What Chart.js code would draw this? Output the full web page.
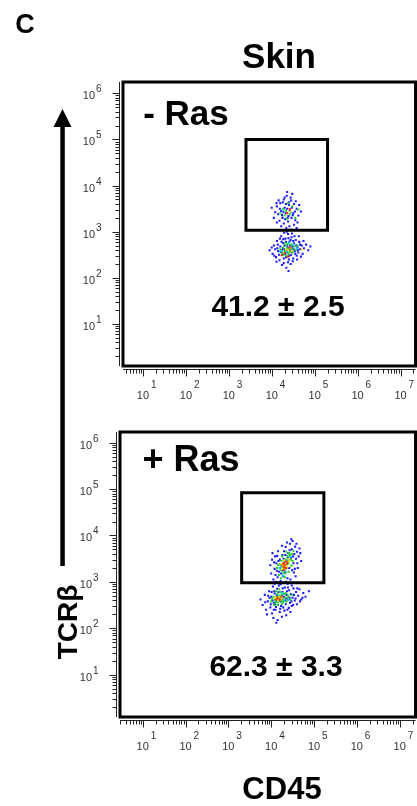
<!DOCTYPE html>
<html><head><meta charset="utf-8">
<script src="https://cdn.jsdelivr.net/npm/chart.js@4.4.1/dist/chart.umd.min.js"></script>
<style>
html,body{margin:0;padding:0;background:#fff;}
body{width:417px;height:806px;position:relative;overflow:hidden;font-family:"Liberation Sans",Arial,sans-serif;}
.t{position:absolute;font-weight:bold;color:#000;line-height:1;white-space:nowrap;transform:translate(-50%,-50%);}
canvas{position:absolute;left:0;}
</style></head><body>
<canvas id="c1" width="417" height="400" style="top:0"></canvas>
<canvas id="c2" width="417" height="406" style="top:400px"></canvas>
<div class="t" style="left:25px;top:24px;font-size:27px">C</div>
<div class="t" style="left:279px;top:55px;font-size:35px">Skin</div>
<div class="t" style="left:186px;top:112px;font-size:35px">- Ras</div>
<div class="t" style="left:278px;top:306px;font-size:30px">41.2 ± 2.5</div>
<div class="t" style="left:191px;top:459px;font-size:36px">+ Ras</div>
<div class="t" style="left:276px;top:666px;font-size:30px">62.3 ± 3.3</div>
<div class="t" style="left:282px;top:788px;font-size:31px">CD45</div>
<div class="t" style="left:68px;top:622px;font-size:28px;transform:translate(-50%,-50%) rotate(-90deg)">TCRβ</div>
<svg style="position:absolute;left:0;top:0" width="120" height="600">
  <rect x="60.3" y="124" width="4.5" height="442" fill="#000"/>
  <polygon points="62.5,109 53.5,127 71.5,127" fill="#000"/>
</svg>
<script>
// ---- data (values in log10 decades) ----
const xTickExps = [1, 2, 3, 4, 5, 6, 7];
const yTickExps = [1, 2, 3, 4, 5, 6];

const minusRasGateX = [3.40, 5.30];
const minusRasGateY = [3.03, 5.00];
const plusRasGateX = [3.31, 5.23];
const plusRasGateY = [2.98, 4.92];

const minusRasLabel = "41.2 ± 2.5";
const plusRasLabel = "62.3 ± 3.3";

const minusRasBlue = [
 [4.12,3.55],[4.20,3.62],[4.28,3.70],[4.35,3.78],[4.45,3.68],[4.52,3.60],[4.40,3.58],[4.30,3.52],[4.22,3.45],[4.15,3.38],
 [4.25,3.30],[4.33,3.40],[4.42,3.46],[4.50,3.40],[4.58,3.50],[4.62,3.35],[4.55,3.25],[4.46,3.30],[4.38,3.22],[4.28,3.18],
 [4.18,3.24],[4.08,3.42],[4.05,3.30],[4.36,3.86],[4.48,3.82],[4.26,3.64],[4.33,3.60],[4.47,3.52],[4.39,3.34],[4.31,3.27],
 [4.41,3.12],[4.52,3.15],[4.60,3.20],[4.68,3.44],[4.22,3.12],[4.12,3.20],[4.00,3.52],[4.16,3.68],[4.44,3.74],[4.56,3.66],
 [4.36,3.50],[4.27,3.42],[4.19,3.50],[4.49,3.36],[4.34,3.08],[4.45,3.05],[4.24,3.36],[4.40,3.64],[4.30,3.74],[4.54,3.44],
 [4.64,3.58],[4.11,3.62],[4.58,3.08],[4.37,3.30],
 [3.95,2.60],[4.02,2.52],[4.05,2.70],[4.10,2.45],[4.12,2.80],[4.15,2.58],[4.18,2.38],[4.20,2.68],[4.22,2.90],[4.25,2.50],
 [4.27,2.75],[4.28,2.32],[4.30,2.62],[4.32,2.85],[4.33,2.45],[4.35,2.70],[4.36,2.55],[4.38,2.95],[4.40,2.40],[4.41,2.78],
 [4.43,2.60],[4.45,2.50],[4.46,2.88],[4.48,2.68],[4.50,2.42],[4.52,2.75],[4.54,2.58],[4.56,2.82],[4.58,2.48],[4.60,2.66],
 [4.62,2.55],[4.64,2.78],[4.66,2.62],[4.70,2.70],[4.72,2.52],[4.75,2.64],[4.80,2.72],[4.85,2.60],[4.90,2.68],[4.08,2.62],
 [4.14,2.72],[4.24,2.28],[4.34,2.22],[4.39,2.15],[4.44,2.30],[4.29,2.98],[4.35,3.00],[4.47,2.96],[4.17,2.50],[4.21,2.56],
 [4.26,2.64],[4.31,2.52],[4.37,2.66],[4.42,2.70],[4.47,2.56],[4.51,2.62],[4.57,2.70],[4.23,2.78],[4.33,2.78],[4.44,2.82],
 [4.53,2.90],[4.19,2.85],[4.28,2.42],[4.38,2.34],[4.49,2.36],[4.59,2.40],[4.11,2.35],[4.06,2.48],[4.00,2.66],[4.68,2.46],
 [4.74,2.80],[4.63,2.90],[4.41,2.48],[4.36,2.60],[4.30,2.70],[4.24,2.60],[4.46,2.64],[4.55,2.52],[4.13,2.64],[4.27,2.84],
 [4.39,2.86],[4.50,2.80],[4.61,2.60],[4.66,2.72]
];
const minusRasCyan = [[4.28,3.48],[4.45,3.42],[4.22,2.58],[4.50,2.72],[4.34,2.56],[4.58,2.64],[4.40,2.76]];
const minusRasGreen = [
 [4.33,3.45],[4.42,3.38],[4.26,3.50],[4.48,3.55],[4.35,3.28],[4.20,3.40],[4.55,3.30],[4.38,3.62],[4.30,3.35],[4.62,3.48],
 [4.30,2.58],[4.36,2.64],[4.42,2.56],[4.48,2.62],[4.33,2.70],[4.39,2.52],[4.45,2.72],[4.27,2.66],[4.52,2.68],[4.40,2.62],
 [4.34,2.48],[4.24,2.54],[4.56,2.60],[4.44,2.66],[4.31,2.76],[4.20,2.62],[4.50,2.55],[4.37,2.74],[4.60,2.70],[4.28,2.50]
];
const minusRasYellow = [[4.38,2.60],[4.43,2.64],[4.33,2.62],[4.46,2.58],[4.70,2.62],[4.44,3.44]];
const minusRasRed = [[4.42,3.49],[4.36,3.40],[4.23,2.49],[4.38,2.46],[4.42,2.66],[4.30,2.54]];

const plusRasBlue = [
 [4.05,3.05],[4.10,3.15],[4.08,3.28],[4.12,3.40],[4.15,3.10],[4.18,3.22],[4.20,3.48],[4.22,3.02],[4.24,3.35],[4.26,3.58],
 [4.28,3.12],[4.30,3.66],[4.32,3.20],[4.34,3.75],[4.36,3.44],[4.38,3.08],[4.40,3.62],[4.42,3.30],[4.44,3.82],[4.46,3.52],
 [4.48,3.70],[4.50,3.88],[4.52,3.40],[4.54,3.60],[4.56,3.76],[4.58,3.50],[4.60,3.65],[4.62,3.30],[4.64,3.55],[4.66,3.72],
 [4.00,3.18],[3.98,3.36],[4.02,3.48],[4.14,3.56],[4.16,3.66],[4.25,3.78],[4.37,3.85],[4.47,3.92],[4.53,3.20],[4.57,3.12],
 [4.45,3.05],[4.35,3.00],[4.19,2.98],[4.11,3.00],[4.29,3.50],[4.33,3.58],[4.39,3.52],[4.43,3.68],[4.21,3.30],[4.27,3.25],
 [4.49,3.25],[4.51,3.55],[4.41,3.46],[4.31,3.42],[4.23,3.18],[4.13,3.24],[4.07,3.42],[4.59,3.82],[4.68,3.62],[4.70,3.45],
 [4.61,3.40],[4.55,3.28],[4.17,3.45],[4.09,3.55],[4.03,3.62],
 [3.75,2.62],[3.80,2.50],[3.85,2.72],[3.88,2.40],[3.92,2.58],[3.95,2.80],[3.98,2.45],[4.00,2.68],[4.02,2.32],[4.04,2.90],
 [4.06,2.55],[4.08,2.75],[4.10,2.40],[4.12,2.62],[4.14,2.85],[4.16,2.50],[4.18,2.70],[4.20,2.35],[4.22,2.95],[4.24,2.58],
 [4.26,2.78],[4.28,2.45],[4.30,2.68],[4.32,2.88],[4.34,2.52],[4.36,2.72],[4.38,2.40],[4.40,2.62],[4.42,2.82],[4.44,2.55],
 [4.46,2.74],[4.48,2.48],[4.50,2.66],[4.52,2.86],[4.55,2.60],[4.58,2.78],[4.60,2.52],[4.63,2.70],[4.66,2.84],[4.70,2.62],
 [4.75,2.76],[4.80,2.68],[4.88,2.80],[4.05,2.22],[4.15,2.18],[4.25,2.25],[4.12,2.12],[4.35,2.28],[3.90,2.30],[4.45,2.35],
 [4.18,2.92],[4.28,2.98],[4.38,2.96],[4.48,2.92],[4.08,2.96],[3.96,2.66],[4.03,2.60],[4.09,2.52],[4.13,2.70],[4.19,2.60],
 [4.23,2.48],[4.27,2.64],[4.33,2.60],[4.37,2.80],[4.43,2.66],[4.47,2.58],[4.53,2.72],[4.57,2.64],[4.07,2.80],[4.17,2.78],
 [4.27,2.86],[4.39,2.88],[4.11,2.46],[4.21,2.42],[4.31,2.38],[4.41,2.44],[4.51,2.50],[3.99,2.52],[3.93,2.70],[4.61,2.86],
 [4.67,2.58],[4.73,2.66],[4.01,2.78],[4.25,2.70],[4.35,2.64],[4.15,2.60],[4.06,2.40],[3.86,2.56]
];
const plusRasCyan = [[4.20,3.30],[4.38,3.48],[4.27,3.14],[4.44,3.54],[4.18,2.70],[4.09,2.58],[4.30,2.60],[4.13,2.56],[4.25,2.76],[4.35,3.22],[4.42,2.62]];
const plusRasGreen = [
 [4.22,3.25],[4.26,3.32],[4.30,3.40],[4.34,3.48],[4.38,3.56],[4.42,3.62],[4.28,3.20],[4.24,3.45],[4.36,3.30],[4.40,3.40],
 [4.18,3.15],[4.32,3.10],[4.46,3.48],[4.44,3.58],[4.20,3.38],[4.48,3.60],[4.50,3.45],[4.26,3.55],[4.35,3.65],[4.14,3.30],
 [4.29,3.28],[4.37,3.38],[4.41,3.22],[4.33,3.18],[4.23,3.08],[4.52,3.66],[4.47,3.35],[4.16,3.36],
 [4.08,2.62],[4.12,2.68],[4.16,2.56],[4.20,2.66],[4.24,2.72],[4.14,2.74],[4.10,2.56],[4.18,2.64],[4.22,2.58],[4.26,2.62],
 [4.30,2.74],[4.05,2.68],[4.28,2.56],[4.32,2.66],[4.02,2.64],[4.36,2.58],[4.40,2.70],[4.15,2.50],[4.20,2.78],[4.25,2.52],
 [4.45,2.62],[4.11,2.80],[4.34,2.76],[4.00,2.58],[4.48,2.72],[4.07,2.50],[4.38,2.66],[4.19,2.84]
];
const plusRasYellow = [
 [4.28,3.34],[4.32,3.30],[4.36,3.42],[4.30,3.46],[4.34,3.38],[4.26,3.28],[4.40,3.50],[4.38,3.32],[4.24,3.38],[4.42,3.45],
 [4.14,2.64],[4.18,2.68],[4.22,2.62],[4.10,2.66],[4.26,2.66],[4.16,2.60]
];
const plusRasRed = [
 [4.30,3.32],[4.33,3.36],[4.35,3.44],[4.31,3.26],[4.37,3.40],[4.29,3.40],[4.34,3.30],[4.28,3.38],
 [4.15,2.66],[4.20,2.62],[4.12,2.62],[4.24,2.68]
];

// ---- helpers ----
const toPts = arr => arr.map(p => ({x: Math.pow(10, p[0]), y: Math.pow(10, p[1])}));
const gatePts = (gx, gy) => toPts([[gx[0],gy[0]],[gx[0],gy[1]],[gx[1],gy[1]],[gx[1],gy[0]],[gx[0],gy[0]]]);

const flowAxes = {
  id: 'flowAxes',
  afterDraw(chart) {
    const ctx = chart.ctx, a = chart.chartArea, xs = chart.scales.x, ys = chart.scales.y;
    ctx.save();
    ctx.strokeStyle = '#000'; ctx.lineWidth = 3;
    ctx.strokeRect(a.left, a.top, a.right - a.left, a.bottom - a.top);
    ctx.lineWidth = 1; ctx.strokeStyle = '#222';
    const axX = a.left - 3.5, axY = a.bottom + 3.5;
    ctx.beginPath();
    ctx.moveTo(axX, a.top); ctx.lineTo(axX, a.bottom);
    ctx.moveTo(a.left, axY); ctx.lineTo(a.right, axY);
    for (let k = 0; k <= 7; k++) for (let m = 1; m <= 9; m++) {
      const v = m * Math.pow(10, k);
      if (v >= ys.min && v <= ys.max) { const p = Math.round(ys.getPixelForValue(v)) + 0.5; ctx.moveTo(axX, p); ctx.lineTo(axX - (m === 1 ? 7 : 4), p); }
      if (v >= xs.min && v <= xs.max) { const p = Math.round(xs.getPixelForValue(v)) + 0.5; ctx.moveTo(p, axY); ctx.lineTo(p, axY + (m === 1 ? 7 : 4)); }
    }
    ctx.stroke();
    ctx.fillStyle = '#333';
    ctx.textBaseline = 'alphabetic';
    yTickExps.forEach(e => {
      const p = ys.getPixelForValue(Math.pow(10, e));
      ctx.font = '11px "Liberation Sans", Arial, sans-serif';
      ctx.textAlign = 'right';
      ctx.fillText('10', a.left - 28, p + 6);
      ctx.font = '10px "Liberation Sans", Arial, sans-serif';
      ctx.textAlign = 'left';
      ctx.fillText(String(e), a.left - 27, p - 1);
    });
    xTickExps.forEach(e => {
      const p = xs.getPixelForValue(Math.pow(10, e));
      ctx.font = '11px "Liberation Sans", Arial, sans-serif';
      ctx.textAlign = 'center';
      ctx.fillText('10', p, a.bottom + 33);
      ctx.font = '10px "Liberation Sans", Arial, sans-serif';
      ctx.textAlign = 'left';
      ctx.fillText(String(e), p + 8, a.bottom + 22);
    });
    ctx.restore();
  }
};

function makePanel(id, pad, xr, yr, gx, gy, red, yellow, green, cyan, blue) {
  const dot = (data, color) => ({data: toPts(data), backgroundColor: color, borderWidth: 0, pointStyle: 'rect', pointRadius: 1.45, pointHoverRadius: 1.45});
  return new Chart(document.getElementById(id), {
    type: 'scatter',
    data: { datasets: [
      {data: gatePts(gx, gy), showLine: true, borderColor: '#000', borderWidth: 3, pointRadius: 0, fill: false, borderJoinStyle: 'miter', borderCapStyle: 'square', tension: 0},
      dot(red, '#ff2a00'),
      dot(yellow, '#f2e200'),
      dot(green, '#22d022'),
      dot(cyan, '#00d6e6'),
      dot(blue, '#1818ff')
    ]},
    options: {
      responsive: false, animation: false, events: [],
      layout: { padding: pad },
      plugins: { legend: {display: false}, tooltip: {enabled: false} },
      scales: {
        x: { type: 'logarithmic', display: false, bounds: 'data', min: Math.pow(10, xr[0]), max: Math.pow(10, xr[1]) },
        y: { type: 'logarithmic', display: false, bounds: 'data', min: Math.pow(10, yr[0]), max: Math.pow(10, yr[1]) }
      }
    },
    plugins: [flowAxes]
  });
}

makePanel('c1', {top: 82, left: 123, right: 1, bottom: 34}, [0.535, 7.35], [0.09, 6.245],
  minusRasGateX, minusRasGateY, minusRasRed, minusRasYellow, minusRasGreen, minusRasCyan, minusRasBlue);
makePanel('c2', {top: 32, left: 120, right: 1, bottom: 89}, [0.47, 7.37], [0.088, 6.23],
  plusRasGateX, plusRasGateY, plusRasRed, plusRasYellow, plusRasGreen, plusRasCyan, plusRasBlue);
</script>
</body></html>
